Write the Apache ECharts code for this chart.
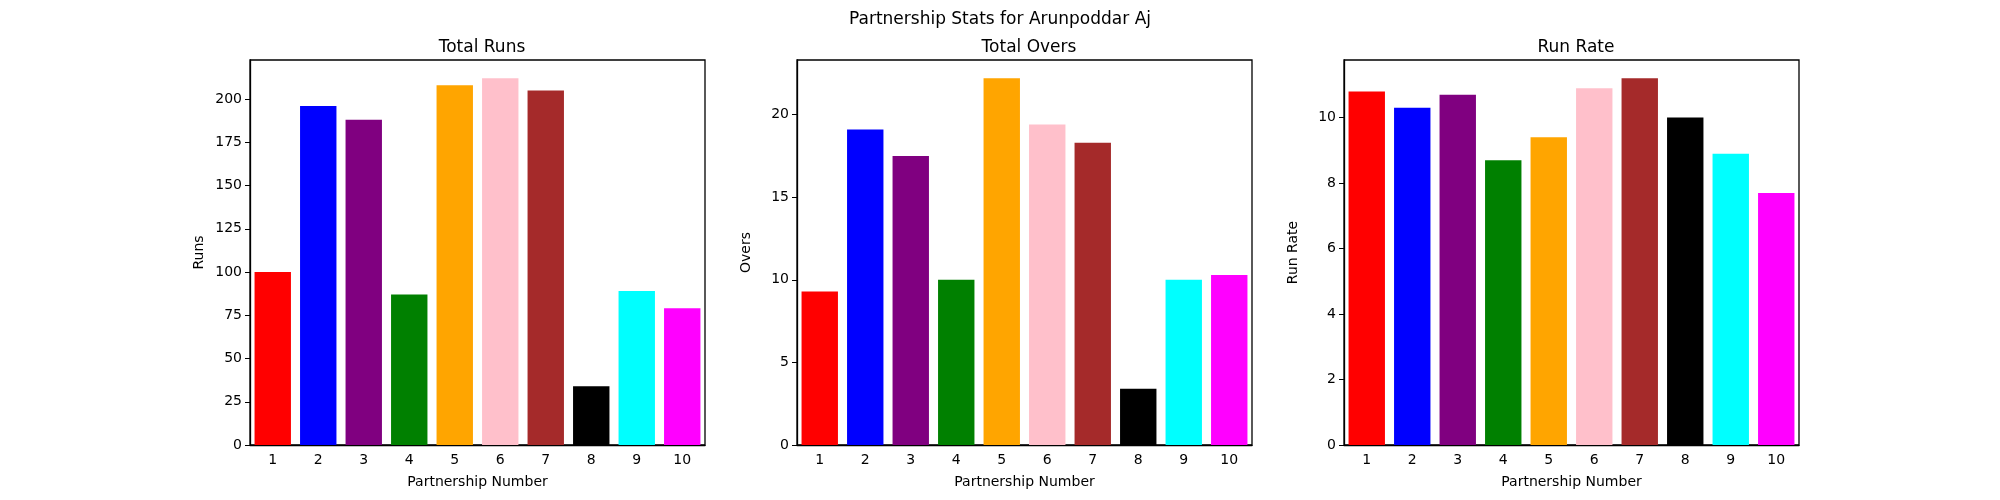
<!DOCTYPE html>
<html>
<head>
<meta charset="utf-8">
<script src="https://cdn.jsdelivr.net/npm/echarts@6/dist/echarts.min.js"></script>
<style>html,body{margin:0;padding:0;background:#fff}#chart{width:2000px;height:500px}</style>
</head>
<body>
<div id="chart"></div>
<script>
const partnerships = ['1', '2', '3', '4', '5', '6', '7', '8', '9', '10'];
const barColors = ['red', 'blue', 'purple', 'green', 'orange', 'pink', 'brown', 'black', 'cyan', 'magenta'];
const totalRuns = [100, 196, 188, 87, 208, 212, 205, 34, 89, 79];
const totalOvers = [9.3, 19.1, 17.5, 10.0, 22.2, 19.4, 18.3, 3.4, 10.0, 10.3];
const runRate = [10.8, 10.3, 10.7, 8.7, 9.4, 10.9, 11.2, 10.0, 8.9, 7.7];

const panels = [
    { title: 'Total Runs', yName: 'Runs', data: totalRuns, max: 222.6, interval: 25, left: 250 },
    { title: 'Total Overs', yName: 'Overs', data: totalOvers, max: 23.31, interval: 5, left: 797 },
    { title: 'Run Rate', yName: 'Run Rate', data: runRate, max: 11.76, interval: 2, left: 1344 }
];

const font = 'DejaVu Sans';
const axisBlack = { lineStyle: { color: '#000', width: 1.3 } };

const option = {
    animation: false,
    textStyle: { fontFamily: font },
    title: [{
        text: 'Partnership Stats for Arunpoddar Aj',
        left: 'center', top: 6,
        textStyle: { fontSize: 17, fontWeight: 'normal', color: '#000', fontFamily: font }
    }].concat(panels.map(p => ({
        text: p.title,
        left: p.left + 227, top: 34, textAlign: 'center',
        textStyle: { fontSize: 17, fontWeight: 'normal', color: '#000', fontFamily: font }
    }))),
    grid: panels.map(p => ({
        left: p.left, width: 455, top: 60, bottom: 55,
        show: true, borderColor: '#000', borderWidth: 1.3, containLabel: false
    })),
    xAxis: panels.map((p, i) => ({
        type: 'category', gridIndex: i, data: partnerships,
        name: 'Partnership Number', nameLocation: 'middle', nameGap: 30,
        nameTextStyle: { fontSize: 14, color: '#000' },
        axisLine: axisBlack,
        axisTick: { alignWithLabel: true, length: 5, lineStyle: { color: '#000' } },
        axisLabel: { fontSize: 14, color: '#000', margin: 8 }
    })),
    yAxis: panels.map((p, i) => ({
        type: 'value', gridIndex: i, min: 0, max: p.max, interval: p.interval,
        name: p.yName, nameLocation: 'middle', nameGap: 44,
        nameTextStyle: { fontSize: 14, color: '#000' },
        axisLine: { show: true, lineStyle: { color: '#000', width: 1.3 } },
        axisTick: { show: true, length: 5, lineStyle: { color: '#000' } },
        axisLabel: { fontSize: 14, color: '#000', margin: 8, showMaxLabel: false },
        splitLine: { show: false }
    })),
    series: panels.map((p, i) => ({
        type: 'bar', xAxisIndex: i, yAxisIndex: i,
        barCategoryGap: '20%',
        data: p.data.map((v, j) => ({ value: v, itemStyle: { color: barColors[j] } }))
    }))
};

echarts.init(document.getElementById('chart')).setOption(option);
</script>
</body>
</html>
